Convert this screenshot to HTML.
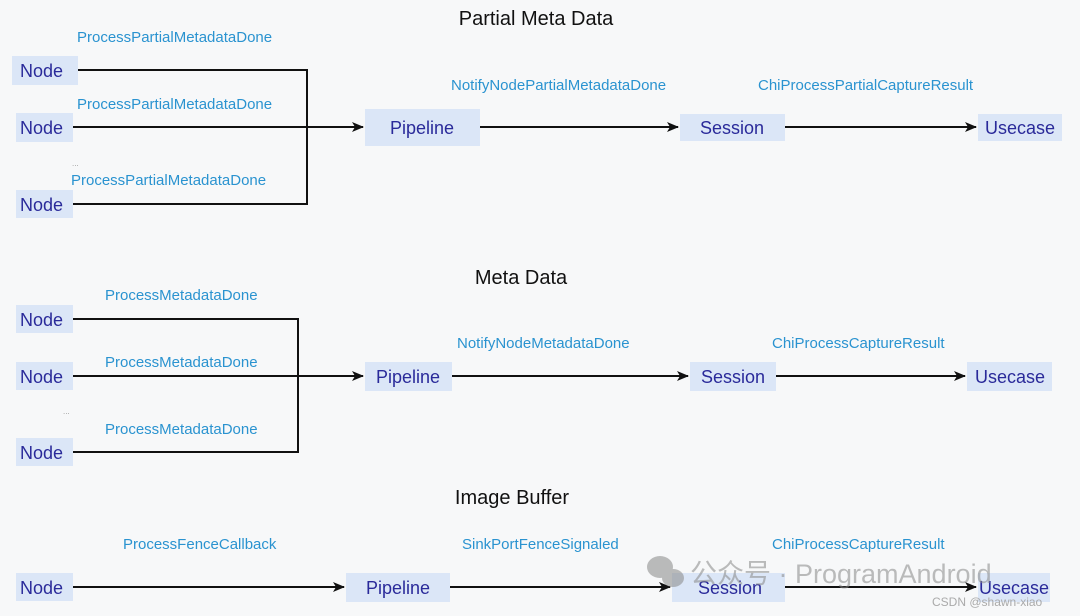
<!DOCTYPE html>
<html><head><meta charset="utf-8"><style>
html,body{margin:0;padding:0;background:#f7f8f9;}
svg{display:block;}
.t{font-family:"Liberation Sans",sans-serif;}
.title{font-size:20px;fill:#111;}
.lab{font-size:15px;fill:#2a93d0;}
.nd{font-size:18px;fill:#2a2a9a;}
.box{fill:#dbe6f7;}
.ln{stroke:#111;stroke-width:2;fill:none;}
</style></head><body>
<svg width="1080" height="616" viewBox="0 0 1080 616" xmlns="http://www.w3.org/2000/svg">
<defs><marker id="a" markerWidth="12" markerHeight="10" refX="11" refY="5" orient="auto" markerUnits="userSpaceOnUse"><path d="M0,0 L12,5 L0,10 L3,5 z" fill="#111"/></marker></defs>
<g class="t">
<!-- Section 1 -->
<text class="title" x="536" y="25" text-anchor="middle">Partial Meta Data</text>
<text class="lab" x="77" y="42">ProcessPartialMetadataDone</text>
<text class="lab" x="77" y="109">ProcessPartialMetadataDone</text>
<text class="lab" x="71" y="185">ProcessPartialMetadataDone</text>
<text x="72" y="166" font-size="8" fill="#999">...</text>
<rect class="box" x="12" y="56" width="66" height="29"/><text class="nd" x="20" y="77">Node</text>
<rect class="box" x="16" y="113" width="57" height="29"/><text class="nd" x="20" y="134">Node</text>
<rect class="box" x="16" y="190" width="57" height="28"/><text class="nd" x="20" y="211">Node</text>
<path class="ln" d="M78,70 H307 V204 H73"/>
<path class="ln" d="M73,127 H363" marker-end="url(#a)"/>
<rect class="box" x="365" y="109" width="115" height="37"/><text class="nd" x="422" y="134" text-anchor="middle">Pipeline</text>
<text class="lab" x="451" y="90">NotifyNodePartialMetadataDone</text>
<path class="ln" d="M480,127 H678" marker-end="url(#a)"/>
<rect class="box" x="680" y="114" width="105" height="27"/><text class="nd" x="732" y="134" text-anchor="middle">Session</text>
<text class="lab" x="758" y="90">ChiProcessPartialCaptureResult</text>
<path class="ln" d="M785,127 H976" marker-end="url(#a)"/>
<rect class="box" x="978" y="114" width="84" height="27"/><text class="nd" x="1020" y="134" text-anchor="middle">Usecase</text>

<!-- Section 2 -->
<text class="title" x="521" y="284" text-anchor="middle">Meta Data</text>
<text class="lab" x="105" y="300">ProcessMetadataDone</text>
<text class="lab" x="105" y="367">ProcessMetadataDone</text>
<text class="lab" x="105" y="434">ProcessMetadataDone</text>
<text x="63" y="414" font-size="8" fill="#999">...</text>
<rect class="box" x="16" y="305" width="57" height="28"/><text class="nd" x="20" y="326">Node</text>
<rect class="box" x="16" y="362" width="57" height="28"/><text class="nd" x="20" y="383">Node</text>
<rect class="box" x="16" y="438" width="57" height="28"/><text class="nd" x="20" y="459">Node</text>
<path class="ln" d="M73,319 H298 V452 H73"/>
<path class="ln" d="M73,376 H363" marker-end="url(#a)"/>
<rect class="box" x="365" y="362" width="87" height="29"/><text class="nd" x="408" y="383" text-anchor="middle">Pipeline</text>
<text class="lab" x="457" y="348">NotifyNodeMetadataDone</text>
<path class="ln" d="M452,376 H688" marker-end="url(#a)"/>
<rect class="box" x="690" y="362" width="86" height="29"/><text class="nd" x="733" y="383" text-anchor="middle">Session</text>
<text class="lab" x="772" y="348">ChiProcessCaptureResult</text>
<path class="ln" d="M776,376 H965" marker-end="url(#a)"/>
<rect class="box" x="967" y="362" width="85" height="29"/><text class="nd" x="1010" y="383" text-anchor="middle">Usecase</text>

<!-- Section 3 -->
<text class="title" x="512" y="504" text-anchor="middle">Image Buffer</text>
<text class="lab" x="123" y="549">ProcessFenceCallback</text>
<rect class="box" x="16" y="573" width="57" height="28"/><text class="nd" x="20" y="594">Node</text>
<path class="ln" d="M73,587 H344" marker-end="url(#a)"/>
<rect class="box" x="346" y="573" width="104" height="29"/><text class="nd" x="398" y="594" text-anchor="middle">Pipeline</text>
<text class="lab" x="462" y="549">SinkPortFenceSignaled</text>
<path class="ln" d="M450,587 H670" marker-end="url(#a)"/>
<rect class="box" x="672" y="573" width="113" height="29"/><text class="nd" x="730" y="594" text-anchor="middle">Session</text>
<text class="lab" x="772" y="549">ChiProcessCaptureResult</text>
<path class="ln" d="M785,587 H976" marker-end="url(#a)"/>
<rect class="box" x="978" y="573" width="72" height="29"/><text class="nd" x="1014" y="594" text-anchor="middle">Usecase</text>

<!-- watermark -->
<g opacity="0.55" fill="#888">
<ellipse cx="660" cy="567" rx="13" ry="11"/><ellipse cx="673" cy="578" rx="11" ry="9"/>
<text x="690" y="583" font-size="27" font-family="'Liberation Sans','Noto Sans CJK SC',sans-serif">公众号 · ProgramAndroid</text>
</g>
<text x="932" y="606" font-size="12" fill="#aaa">CSDN @shawn-xiao</text>
</g>
</svg>
</body></html>
